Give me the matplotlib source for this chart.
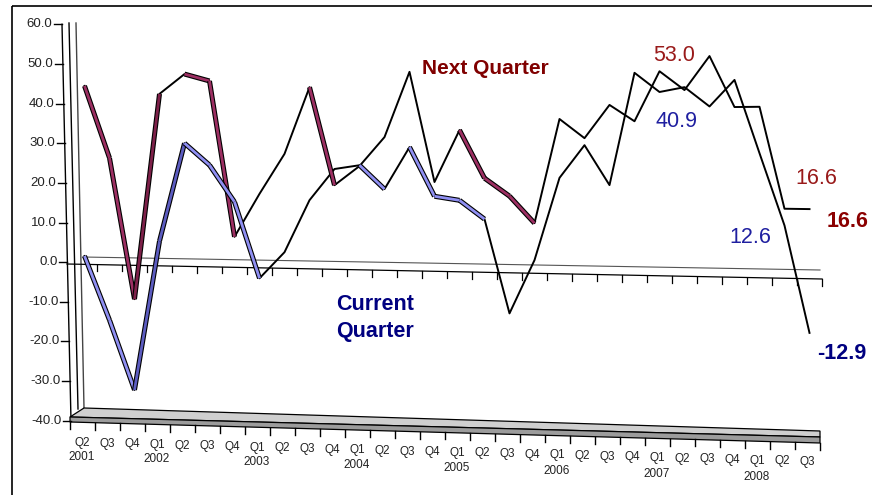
import numpy as np
import matplotlib
matplotlib.use("Agg")
import matplotlib.pyplot as plt
import matplotlib.patheffects as pe
from matplotlib.patches import Polygon, Rectangle
from matplotlib.transforms import Affine2D, Transform, blended_transform_factory

plt.rcParams['font.family'] = ['Liberation Sans', 'DejaVu Sans']

# quarterly survey readings, 2001 Q2 .. 2008 Q3
quarters = ['Q2', 'Q3', 'Q4'] + ['Q1', 'Q2', 'Q3', 'Q4'] * 6 + ['Q1', 'Q2', 'Q3']
years = ['2001', '', '', '2002', '', '', '', '2003', '', '', '', '2004', '', '', '',
         '2005', '', '', '', '2006', '', '', '', '2007', '', '', '', '2008', '', '']
next_q = [45.0, 26.9, -8.5, 43.1, 48.1, 46.4, 7.6, 18.4, 28.4, 45.0,
          20.8, 25.6, 32.8, 48.9, 21.9, 34.7, 23.0, 18.7, 12.2, 37.6,
          33.0, 41.1, 37.2, 49.3, 44.8, 53.0, 40.8, 40.9, 16.6, 16.6]
current_q = [2.1, -13.9, -31.3, 6.2, 30.8, 25.4, 16.3, -2.6, 4.0, 17.0,
             24.8, 25.8, 20.0, 30.4, 18.4, 17.5, 13.0, -9.9, 3.2, 23.3,
             31.3, 21.7, 48.9, 44.3, 45.5, 40.9, 47.3, 29.8, 12.6, -12.9]
yticks = [60, 50, 40, 30, 20, 10, 0, -10, -20, -30, -40]

W, H = 872, 495
fig = plt.figure(figsize=(W / 100, H / 100), dpi=100)
# pixel coords with origin top-left, for the 3-D frame decorations
px = Affine2D().scale(1.0 / W, -1.0 / H).translate(0, 1) + fig.transFigure

ax = fig.add_axes([66 / W, (H - 420.7) / H, 756 / W, 396.4 / H])
ax.set_xlim(-0.74, 29.5)
ax.set_ylim(-40, 60)
ax.axis('off')


class Persp(Transform):
    """fake the 3-D view: plane sinks and grows slightly toward the right"""
    input_dims = output_dims = 2

    def transform_non_affine(self, values):
        values = np.asarray(values, float)
        X = values[:, 0]
        yf = H - values[:, 1]
        s = (3.96 + 0.24 * (X - 67) / 755) / 3.964
        y0 = 264 + 15 * (X - 67) / 755
        y = y0 - s * (262.14 - yf)
        return np.column_stack([X, H - y])


pt = ax.transData + Persp()


def cat_x(i):
    return ax.transData.transform((i, 0))[0]


def deco(art):
    art.set_zorder(-1)
    fig.add_artist(art)


# outer frame (left / top edges only visible)
deco(Rectangle((11.5, 6), 900, 600, transform=px, fill=False, lw=1.2, ec='black'))

# back wall edges and y axis
for (x1, y1, x2, y2, c) in [(69, 23, 78, 409, 'black'), (76, 23, 84, 408, '#444444'),
                            (62, 24.3, 71, 420.7, 'black')]:
    deco(plt.Line2D([x1, x2], [y1, y2], transform=px, color=c, lw=1.0))

# floor slab
deco(Polygon([(84, 408), (820, 431), (820, 437), (70, 417)], closed=True, transform=px,
             fc='#cfcfcf', ec='black', lw=0.9))
deco(Polygon([(70, 417), (820, 437), (820, 443), (70, 422)], closed=True, transform=px,
             fc='#9c9c9c', ec='black', lw=0.9))

# back zero line
deco(plt.Line2D([83, 820], [257, 270], transform=px, color='#555555', lw=0.8))

# y ticks + labels along the slanted axis
bt = blended_transform_factory(px, ax.transData)
for v in yticks:
    xa = 62 + 9 * (60 - v) / 100
    ax.plot([xa - 8, xa], [v, v], transform=bt, color='black', lw=1.0, clip_on=False)
    ax.text(xa - 9.5, v, f'{v:.1f}', transform=bt, ha='right', va='center',
            fontsize=9.5, color='#222222')

# category labels, sloping down with perspective
for i, q in enumerate(quarters):
    xq = cat_x(i) - 2.5
    fig.text(xq, 443 + 19 * i / 29, q, transform=px, ha='center', va='center',
             fontsize=8.5, color='#222222')
    if years[i]:
        fig.text(xq, 457 + 21 * i / 29, years[i], transform=px, ha='center', va='center',
                 fontsize=8.5, color='#222222')

# floor tick marks
for k in range(-1, 30):
    xt = cat_x(k + 0.5) - 2.5
    yb = 422 + 21 * (xt - 70) / 750
    deco(plt.Line2D([xt, xt], [yb, yb + 7], transform=px, color='black', lw=1.0))

# front zero axis with ticks
ax.plot([-0.7, 29.5], [0, 0], transform=pt, color='black', lw=0.9, clip_on=False, zorder=2)
for k in range(30):
    ax.plot([k + 0.5, k + 0.5], [0, -1.6], transform=pt, color='black', lw=0.9,
            clip_on=False, zorder=2)


def ribbon(vals, face, dark):
    x = np.arange(len(vals))
    ax.plot(x, vals, color='black', lw=1.4, transform=pt, clip_on=False, zorder=5)
    for i in range(len(vals) - 1):
        dv = vals[i + 1] - vals[i]
        if dv < -0.5 and -dv < min(40, 40 - 3 * (i - 7)):
            c = face
        elif dv > 20 and i < 4:
            c = dark
        else:
            continue
        ax.plot(x[i:i + 2], vals[i:i + 2], color=c, lw=2.0, transform=pt, clip_on=False,
                zorder=6, solid_capstyle='butt',
                path_effects=[pe.Stroke(linewidth=3.6, foreground='black'), pe.Normal()])


ribbon(next_q, '#9c2f62', '#7d2049')
ribbon(current_q, '#8f8ff2', '#5c5cc0')

# annotations
fig.text(422, 74, 'Next Quarter', transform=px, ha='left', va='baseline',
         fontsize=15, fontweight='bold', color='#800000')
fig.text(336, 310.5, 'Current', transform=px, ha='left', va='baseline',
         fontsize=15.5, fontweight='bold', color='#000080')
fig.text(336, 337, 'Quarter', transform=px, ha='left', va='baseline',
         fontsize=15.5, fontweight='bold', color='#000080')

fig.text(653, 61, f'{next_q[25]:.1f}', transform=px, va='baseline', fontsize=15.5, color='#991a1a')
fig.text(655, 127, f'{current_q[25]:.1f}', transform=px, va='baseline', fontsize=15.5, color='#1f1fa0')
fig.text(795, 184, f'{next_q[28]:.1f}', transform=px, va='baseline', fontsize=15.5, color='#991a1a')
fig.text(729, 243, f'{current_q[28]:.1f}', transform=px, va='baseline', fontsize=15.5, color='#1f1fa0')
fig.text(827, 227, f'{next_q[29]:.1f}', transform=px, va='baseline', fontsize=15.5,
         fontweight='bold', color='#8b0000')
fig.text(817, 359, f'{current_q[29]:.1f}', transform=px, va='baseline', fontsize=15.5,
         fontweight='bold', color='#000080')

plt.savefig('out.png', dpi=100)
